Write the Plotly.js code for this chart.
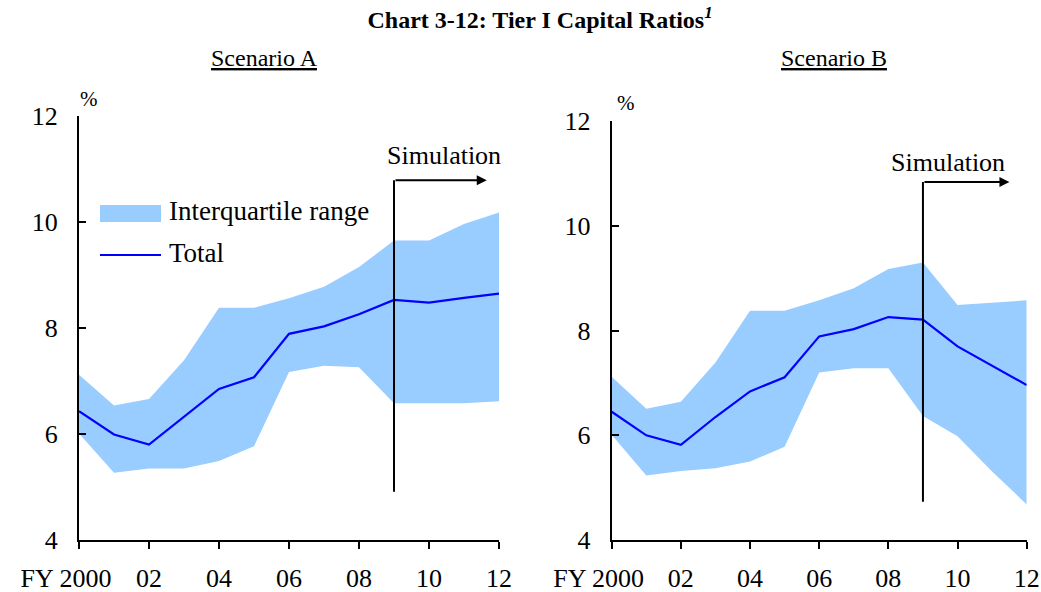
<!DOCTYPE html>
<html>
<head>
<meta charset="utf-8">
<script src="https://cdn.plot.ly/plotly-3.0.1.min.js"></script>
<style>html,body{margin:0;padding:0;background:#fff;}#chart{width:1041px;height:592px;}</style>
</head>
<body>
<div id="chart"></div>
<script>
// ---- data ----
const years = [2000,2001,2002,2003,2004,2005,2006,2007,2008,2009,2010,2011,2012];
const totalA = [6.43,5.99,5.80,6.33,6.85,7.07,7.89,8.03,8.26,8.53,8.48,8.57,8.65];
const q3A    = [7.12,6.54,6.66,7.39,8.38,8.38,8.56,8.78,9.15,9.65,9.65,9.96,10.18];
const q1A    = [6.01,5.27,5.35,5.35,5.49,5.77,7.17,7.29,7.26,6.58,6.58,6.58,6.62];
const totalB = [6.45,6.00,5.82,6.35,6.84,7.11,7.89,8.03,8.26,8.21,7.70,7.33,6.96];
const q3B    = [7.12,6.51,6.64,7.39,8.38,8.38,8.58,8.81,9.18,9.30,8.49,8.53,8.58];
const q1B    = [6.01,5.23,5.32,5.37,5.50,5.78,7.20,7.28,7.28,6.37,5.98,5.31,4.68];
const xTickVals = [2000,2002,2004,2006,2008,2010,2012];
const xTickText = ['FY 2000\u00A0\u00A0\u00A0\u00A0','02','04','06','08','10','12'];
const yTickVals = [4,6,8,10,12];
const simStart = 2009;
const simA = {top:10.79, bottom:4.91, arrowEnd:11.65};
const simB = {top:10.84, bottom:4.73, arrowEnd:11.5};

const FONT = '"Liberation Serif", "Times New Roman", serif';
const FILL = '#99CCFF';
const LINE = '#0000FF';

function panel(q1, q3, tot, xa, ya) {
  return [
    {x: years, y: q1, xaxis: xa, yaxis: ya, mode: 'lines', line: {width: 0, color: FILL}, hoverinfo: 'skip', showlegend: false, name: 'Q1'},
    {x: years, y: q3, xaxis: xa, yaxis: ya, mode: 'lines', line: {width: 0, color: FILL}, fill: 'tonexty', fillcolor: FILL, showlegend: false, name: 'Interquartile range'},
    {x: years, y: tot, xaxis: xa, yaxis: ya, mode: 'lines', line: {width: 2.2, color: LINE}, showlegend: false, name: 'Total'}
  ];
}
const data = [].concat(panel(q1A, q3A, totalA, 'x', 'y'), panel(q1B, q3B, totalB, 'x2', 'y2'));

function xax(domain, anchor) {
  return {domain: domain, anchor: anchor, range: [2000, 2012], tickvals: xTickVals, ticktext: xTickText, tickangle: 0,
    showgrid: false, zeroline: false, showline: true, linecolor: '#000', linewidth: 2,
    ticks: 'outside', ticklen: 7, tickwidth: 2, tickcolor: '#000', ticklabelstandoff: 7,
    tickfont: {family: FONT, size: 26, color: '#000'}, fixedrange: true};
}
function yax(domain, anchor) {
  return {domain: domain, anchor: anchor, range: [4, 12], tickvals: yTickVals,
    showgrid: false, zeroline: false, showline: true, linecolor: '#000', linewidth: 2,
    ticks: 'inside', ticklen: 7, tickwidth: 2, tickcolor: '#000', ticklabelstandoff: 14,
    tickfont: {family: FONT, size: 26, color: '#000'}, fixedrange: true};
}
const W = 1041, H = 592;
const px = v => v / W, py = v => 1 - v / H;
const txt = (x, y, text, size, xanchor) => ({xref: 'paper', yref: 'paper', x: px(x), y: py(y), xanchor: xanchor || 'center', yanchor: 'middle',
  text: text, showarrow: false, font: {family: FONT, size: size, color: '#000'}});

const ann = [
  txt(264, 58, '<span style="text-decoration:underline">Scenario A</span>', 24),
  txt(834, 58, '<span style="text-decoration:underline">Scenario B</span>', 24),
  txt(89, 99, '%', 21),
  txt(626, 103, '%', 21),
  {xref: 'x', yref: 'y', x: 2000 + simA.arrowEnd, y: simA.top, ax: simStart, ay: simA.top, axref: 'x', ayref: 'y', text: '', showarrow: true, arrowhead: 2, arrowsize: 1, arrowwidth: 2, arrowcolor: '#000'},
  {xref: 'x2', yref: 'y2', x: 2000 + simB.arrowEnd, y: simB.top, ax: simStart, ay: simB.top, axref: 'x2', ayref: 'y2', text: '', showarrow: true, arrowhead: 2, arrowsize: 1, arrowwidth: 2, arrowcolor: '#000'},
  txt(444, 156, 'Simulation', 26),
  txt(948, 162, 'Simulation', 26),
  txt(167, 211, 'Interquartile range', 27, 'left'),
  txt(167, 253, 'Total', 27, 'left')
];
const shapes = [
  {type: 'line', xref: 'x', yref: 'y', x0: simStart, x1: simStart, y0: simA.bottom, y1: simA.top, line: {color: '#000', width: 2}},
  {type: 'line', xref: 'x2', yref: 'y2', x0: simStart, x1: simStart, y0: simB.bottom, y1: simB.top, line: {color: '#000', width: 2}},
  {type: 'rect', xref: 'paper', yref: 'paper', x0: px(100), x1: px(161), y0: py(222), y1: py(205), fillcolor: FILL, line: {width: 0}},
  {type: 'line', xref: 'paper', yref: 'paper', x0: px(100), x1: px(161), y0: py(255), y1: py(255), line: {color: LINE, width: 2.2}}
];

const layout = {
  width: W, height: H, margin: {l: 0, r: 0, t: 0, b: 0},
  paper_bgcolor: '#fff', plot_bgcolor: 'rgba(0,0,0,0)', showlegend: false,
  font: {family: FONT, color: '#000'},
  title: {text: '<b>Chart 3-12: Tier I Capital Ratios<sup><i>1</i></sup></b>', x: px(540), xanchor: 'center', y: py(20), yanchor: 'middle', font: {family: FONT, size: 24, color: '#000'}},
  xaxis: xax([px(79), px(499)], 'y'),
  yaxis: yax([py(540), py(116)], 'x'),
  xaxis2: xax([px(611.7), px(1026.7)], 'y2'),
  yaxis2: yax([py(540), py(121.3)], 'x2'),
  annotations: ann,
  shapes: shapes
};
Plotly.newPlot('chart', data, layout, {displayModeBar: false, staticPlot: true});
</script>
</body>
</html>
